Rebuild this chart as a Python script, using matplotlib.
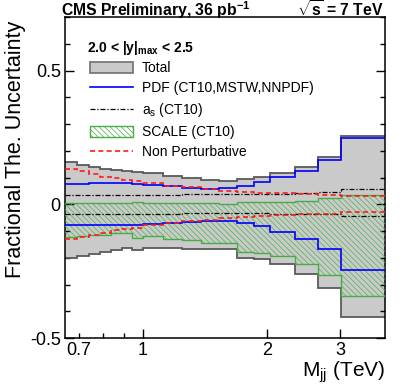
import numpy as np
import matplotlib
matplotlib.use('Agg')
from matplotlib import pyplot as plt
from matplotlib.patches import Patch
from matplotlib.lines import Line2D
from matplotlib.ticker import FixedLocator, FixedFormatter, NullFormatter

plt.rcParams['font.family'] = ['Liberation Sans', 'DejaVu Sans']
plt.rcParams['mathtext.fontset'] = 'custom'
plt.rcParams['mathtext.rm'] = 'Liberation Sans'
plt.rcParams['mathtext.it'] = 'Liberation Sans:italic'
plt.rcParams['mathtext.bf'] = 'Liberation Sans:bold'
plt.rcParams['hatch.linewidth'] = 0.5
plt.rcParams['hatch.color'] = '#4cb44c'

# dijet mass bin edges (TeV)
mass_edges = [0.649, 0.693, 0.740, 0.788, 0.838, 0.890, 0.944, 1.000, 1.118, 1.246,
              1.383, 1.530, 1.687, 1.856, 2.037, 2.332, 2.659, 3.019, 3.854]

total_up = [0.157, 0.148, 0.141, 0.132, 0.128, 0.123, 0.120, 0.117, 0.107, 0.098,
            0.091, 0.088, 0.095, 0.102, 0.118, 0.140, 0.178, 0.257]
total_down = [-0.199, -0.192, -0.186, -0.180, -0.172, -0.165, -0.172, -0.162, -0.165, -0.166,
              -0.168, -0.168, -0.200, -0.206, -0.225, -0.262, -0.314, -0.421]

pdf_up = [0.075, 0.076, 0.078, 0.079, 0.080, 0.078, 0.076, 0.074, 0.068, 0.062,
          0.057, 0.060, 0.068, 0.082, 0.101, 0.126, 0.166, 0.247]
pdf_down = [-0.078, -0.078, -0.078, -0.078, -0.077, -0.076, -0.076, -0.074, -0.069, -0.066,
            -0.063, -0.064, -0.071, -0.081, -0.103, -0.128, -0.168, -0.246]

as_up = [0.036, 0.036, 0.036, 0.036, 0.036, 0.036, 0.036, 0.036, 0.036, 0.037,
         0.037, 0.038, 0.038, 0.039, 0.040, 0.042, 0.047, 0.057]
as_down = [-0.036, -0.036, -0.036, -0.036, -0.036, -0.036, -0.036, -0.035, -0.035, -0.034,
           -0.034, -0.034, -0.034, -0.034, -0.035, -0.037, -0.037, -0.045]

scale_up = [0.005, 0.005, 0.005, 0.005, 0.005, 0.005, 0.010, 0.006, 0.006, 0.005,
            0.004, 0.003, 0.007, 0.007, 0.008, 0.013, 0.022, 0.035]
scale_down = [-0.122, -0.118, -0.114, -0.114, -0.109, -0.109, -0.127, -0.118, -0.128, -0.134,
              -0.146, -0.145, -0.178, -0.183, -0.194, -0.225, -0.265, -0.341]

np_up = [0.132, 0.126, 0.113, 0.103, 0.098, 0.091, 0.086, 0.078, 0.070, 0.063,
         0.056, 0.051, 0.047, 0.044, 0.041, 0.037, 0.035, 0.032]
np_down = [-0.131, -0.124, -0.114, -0.108, -0.097, -0.093, -0.087, -0.079, -0.069, -0.062,
           -0.058, -0.052, -0.046, -0.043, -0.040, -0.036, -0.035, -0.030]

gray_fill = '#cacaca'
gray_edge = '#5a5a5a'
green = '#46ad46'
blue = '#0000ff'
red = '#ff1a1a'
dashdot = (0, (4, 1.5, 1, 1.5))
hatch = '\\\\\\\\\\\\'

fig = plt.figure(figsize=(4.06, 3.89), dpi=100)
ax = fig.add_axes([0.160, 0.131, 0.788, 0.825])

# total band
ax.stairs(total_up, mass_edges, baseline=total_down, fill=True, color=gray_fill, zorder=1)
ax.stairs(total_up, mass_edges, baseline=None, color=gray_edge, lw=1.3, zorder=2)
ax.stairs(total_down, mass_edges, baseline=None, color=gray_edge, lw=1.3, zorder=2)

# scale band
ax.stairs(scale_up, mass_edges, baseline=scale_down, fill=True, facecolor='none',
          edgecolor='#4cb44c', hatch=hatch, lw=0, zorder=3)
ax.stairs(scale_up, mass_edges, baseline=None, color=green, lw=1.0, zorder=4)
ax.stairs(scale_down, mass_edges, baseline=None, color=green, lw=1.0, zorder=4)

# pdf, alpha_s, non perturbative
ax.stairs(pdf_up, mass_edges, baseline=None, color=blue, lw=1.2, zorder=5)
ax.stairs(pdf_down, mass_edges, baseline=None, color=blue, lw=1.2, zorder=5)
ax.stairs(as_up, mass_edges, baseline=None, color='black', lw=0.9, ls=dashdot, zorder=6)
ax.stairs(as_down, mass_edges, baseline=None, color='black', lw=0.9, ls=dashdot, zorder=6)
ax.stairs(np_up, mass_edges, baseline=None, color=red, lw=1.2, ls=(0, (3, 2)), zorder=7)
ax.stairs(np_down, mass_edges, baseline=None, color=red, lw=1.2, ls=(0, (3, 2)), zorder=7)

ax.set_xscale('log')
ax.set_xlim(mass_edges[0], mass_edges[-1])
ax.set_ylim(-0.5, 0.7)

ax.xaxis.set_major_locator(FixedLocator([1, 2, 3]))
ax.xaxis.set_major_formatter(FixedFormatter(['1', '2', '3']))
ax.xaxis.set_minor_locator(FixedLocator([0.7, 0.8, 0.9]))
ax.xaxis.set_minor_formatter(FixedFormatter(['0.7', '', '']))
ax.yaxis.set_major_locator(FixedLocator([-0.5, 0, 0.5]))
ax.yaxis.set_major_formatter(FixedFormatter(['-0.5', '0', '0.5']))
ax.yaxis.set_minor_locator(FixedLocator(np.round(np.arange(-0.4, 0.71, 0.1), 2)))
ax.yaxis.set_minor_formatter(NullFormatter())

ax.tick_params(which='both', direction='in', right=True, top=False, labelsize=13, width=1)
ax.tick_params(which='major', length=6.5, pad=3)
ax.tick_params(which='minor', length=3.6, pad=3)
ax.tick_params(axis='x', which='minor', labelsize=13)
for s in ax.spines.values():
    s.set_linewidth(1.1)

ax.set_xlabel(r'M$_{\mathrm{jj}}$ (TeV)', fontsize=15, loc='right', va='center')
ax.xaxis.set_label_coords(1.0, -0.106)
ax.set_ylabel('Fractional The. Uncertainty', fontsize=15.5, loc='top', va='center')
ax.yaxis.set_label_coords(-0.156, 0.99)

fig.text(61 / 406, 1 - 10 / 389, r'CMS Preliminary, 36 pb$^{\mathbf{-1}}$', fontsize=11.3,
         fontweight='bold', ha='left', va='center')
fig.text(384 / 406, 1 - 10 / 389, r'$\sqrt{\mathbf{s}}$ = 7 TeV', fontsize=11.3,
         fontweight='bold', ha='right', va='center')

ax.text(0.069, 0.905, r'2.0 < |y|$_{\mathbf{max}}$ < 2.5', transform=ax.transAxes,
        fontsize=10, fontweight='bold', ha='left', va='center')

handles = [
    Patch(facecolor=gray_fill, edgecolor='#707070', lw=1.2),
    Line2D([], [], color=blue, lw=1.2),
    Line2D([], [], color='black', lw=0.9, ls=dashdot),
    Patch(facecolor='white', edgecolor=green, hatch=hatch, lw=1.0),
    Line2D([], [], color=red, lw=1.2, ls=(0, (3, 2))),
]
labels = ['Total', 'PDF (CT10,MSTW,NNPDF)', r'a$_{\mathrm{s}}$ (CT10)', 'SCALE (CT10)',
          'Non Perturbative']
ax.legend(handles, labels, loc='upper left', bbox_to_anchor=(0.078, 0.862), frameon=False,
          fontsize=10, borderpad=0, borderaxespad=0, handlelength=3.1, handleheight=0.85,
          handletextpad=0.65, labelspacing=0.42)

fig.savefig('out.png', dpi=100)
